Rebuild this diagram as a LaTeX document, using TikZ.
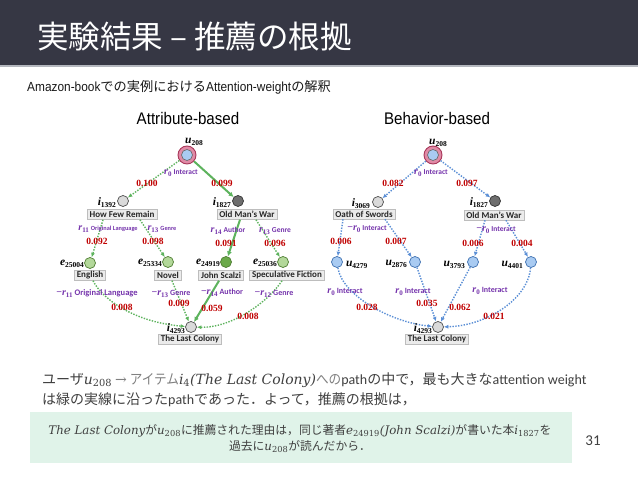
\documentclass[tikz,border=0pt]{standalone}
\usepackage{fontspec}
\setmainfont{Liberation Serif}
\newfontfamily\jpf{Noto Sans CJK JP}
\newfontfamily\jpn{Noto Sans CJK JP}[FakeStretch=0.9]
\newfontfamily\arn{Liberation Sans}[FakeStretch=0.9]
\newfontfamily\cbr{Carlito}
\newfontfamily\mth{DejaVu Serif}
\usetikzlibrary{arrows.meta,calc}
\definecolor{hdr}{HTML}{363744}
\definecolor{hline}{HTML}{B4B7BE}
\definecolor{relc}{HTML}{7534AC}
\definecolor{wtc}{HTML}{C00000}
\definecolor{grn}{HTML}{5DB35D}
\definecolor{blu}{HTML}{5B8FD6}
\definecolor{boxf}{HTML}{EBEBEB}
\definecolor{boxd}{HTML}{BDBDBD}
\definecolor{mint}{HTML}{E0F3E9}
\definecolor{txt}{HTML}{404040}
\definecolor{txtl}{HTML}{808080}
\definecolor{pinkf}{HTML}{E08AA6}
\definecolor{pinkd}{HTML}{A8385A}
\definecolor{ublue}{HTML}{A9CBF2}
\definecolor{ubd}{HTML}{3D6FB0}
\definecolor{ilg}{HTML}{DADADA}
\definecolor{idk}{HTML}{6E6E6E}
\definecolor{egf}{HTML}{B3D89A}
\definecolor{egd}{HTML}{4E7D32}
\definecolor{egk}{HTML}{6BA94A}
\newcommand\nlab[2]{{\fontsize{11.5}{12}\selectfont\bfseries\itshape #1}{\fontsize{7.5}{8}\selectfont\bfseries\raisebox{-2pt}{#2}}}
\newcommand\rlab[4][7.5]{{\fontsize{10}{10}\selectfont\bfseries #2\itshape r}{\fontsize{7}{7}\selectfont\bfseries\raisebox{-2pt}{#3}}\hspace{2pt}{\cbr\bfseries\fontsize{#1}{8}\selectfont #4}}
\newcommand\wlab[1]{{\fontsize{9.5}{10}\selectfont\bfseries #1}}
\newcommand\mv[2]{{\mth{\itshape #1}\textsubscript{#2}}}
\newcommand\mi[1]{{\mth\itshape #1}}
\tikzset{
 lb/.style={inner sep=0pt},
 lbl/.style={inner sep=0pt, anchor=east},
 rl/.style={inner sep=0pt, text=relc},
 wl/.style={inner sep=0pt, text=wtc},
 bx/.style={draw=boxd, fill=boxf, line width=0.5pt, inner xsep=2.5pt, inner ysep=0pt, minimum height=10pt, font=\cbr\bfseries\fontsize{9}{10}\selectfont, text=black!85},
 cn/.style={circle, inner sep=0pt, minimum size=11pt, line width=0.7pt},
 ig/.style={cn, fill=ilg, draw=black!70},
 idkn/.style={cn, fill=idk, draw=black!80},
 en/.style={cn, fill=egf, draw=egd},
 ek/.style={cn, fill=egk, draw=egd},
 un/.style={cn, fill=ublue, draw=ubd},
 uout/.style={circle, fill=pinkf, draw=pinkd, line width=0.9pt, minimum size=18pt, inner sep=0pt},
 uin/.style={circle, fill=ublue, draw=black!60, line width=0.6pt, minimum size=11pt, inner sep=0pt},
 gd/.style={draw=grn, line width=1.4pt, dash pattern=on 1.4pt off 1.4pt, -{Latex[length=4.5pt,width=4pt]}},
 gs/.style={draw=grn, line width=2pt, -{Latex[length=5pt,width=5pt]}},
 bd/.style={draw=blu, line width=1.4pt, dash pattern=on 1.4pt off 1.4pt, -{Latex[length=4.5pt,width=4pt]}},
}
\begin{document}
\begin{tikzpicture}[x=1pt,y=-1pt]
\useasboundingbox (0,0) rectangle (638,478);
\fill[white] (0,0) rectangle (638,478);
\fill[hdr] (0,0) rectangle (638,65);
\fill[hline] (0,65) rectangle (638,67.5);
\node[anchor=west, text=white, font=\jpf\fontsize{31.5}{32}\selectfont, inner sep=0] (title) at (37,37) {実験結果 – 推薦の根拠};
\node[anchor=west, inner sep=0, text=black!90, font=\fontsize{13.2}{14}\selectfont] (sub) at (27,87) {{\arn Amazon-book}{\jpf での実例における}{\arn Attention-weight}{\jpf の解釈}};
\node[inner sep=0, font=\arn\fontsize{16.8}{17}\selectfont] (hattr) at (188,118) {Attribute-based};
\node[inner sep=0, font=\arn\fontsize{16.8}{17}\selectfont] (hbeh) at (437,118) {Behavior-based};

% ---------- attribute-based graph ----------
\node[uout] (au) at (187,155) {};
\node[uin] (aui) at (au.center) {};
\node[ig] (ai1392) at (123,201) {};
\node[idkn] (ai1827) at (238,201) {};
\node[bx] (ahfr) at (122,214.5) {How Few Remain};
\node[bx] (aomw) at (247,214.5) {Old Man’s War};
\node[en] (ae25004) at (90,263) {};
\node[en] (ae25334) at (168,262) {};
\node[ek] (ae24919) at (226,262) {};
\node[en] (ae25036) at (283,262) {};
\node[bx] (aeng) at (90,275.5) {English};
\node[bx] (anov) at (168,275.5) {Novel};
\node[bx] (ajs) at (221,275.5) {John Scalzi};
\node[bx] (aspf) at (287,275.5) {Speculative Fiction};
\node[ig] (ai4293) at (191,327) {};
\node[bx] (alc) at (190,339.5) {The Last Colony};

\draw[gd] (au) -- (ai1392);
\draw[gs] (au) -- (ai1827);
\draw[gd] ($(ahfr.south)+(-19,0)$) -- (ae25004);
\draw[gd] ($(ahfr.south)+(18,0)$) -- (ae25334);
\draw[gs] ($(aomw.south)+(-7,0)$) -- (ae24919);
\draw[gd] ($(aomw.south)+(9,0)$) -- (ae25036);
\draw[gd] ($(aeng.south)+(3,0)$) .. controls (103,300) and (135,322) .. (ai4293);
\draw[gd] ($(anov.south)+(4,0)$) -- (ai4293);
\draw[gs] ($(ajs.south)+(-2,0)$) -- (ai4293);
\draw[gd] ($(aspf.south)+(-5,0)$) .. controls (268,302) and (232,328) .. (ai4293);

\node[lb] (aul) at (194,142) {\nlab{u}{208}};
\node[lbl] (ai1392l) at ($(ai1392.west)+(-1,1.5)$) {\nlab{i}{1392}};
\node[lbl] (ai1827l) at ($(ai1827.west)+(-1,1.5)$) {\nlab{i}{1827}};
\node[lbl] (ae25004l) at ($(ae25004.west)+(0,1)$) {\nlab{e}{25004}};
\node[lbl] (ae25334l) at ($(ae25334.west)+(0,1)$) {\nlab{e}{25334}};
\node[lbl] (ae24919l) at ($(ae24919.west)+(0,1)$) {\nlab{e}{24919}};
\node[lbl] (ae25036l) at ($(ae25036.west)+(0,1)$) {\nlab{e}{25036}};
\node[lbl] (ai4293l) at ($(ai4293.west)+(0,1.5)$) {\nlab{i}{4293}};

\node[rl] (ar0) at (181,173) {\rlab{}{0}{Interact}};
\node[wl] (w100) at (147,183) {\wlab{0.100}};
\node[wl] (w099) at (222,183) {\wlab{0.099}};
\node[rl] (ar11) at (108,229) {\rlab[6.3]{}{11}{Original Language}};
\node[rl] (ar13a) at (162,229) {\rlab[6.3]{}{13}{Genre}};
\node[wl] (w092) at (97,241) {\wlab{0.092}};
\node[wl] (w098) at (153,241) {\wlab{0.098}};
\node[rl] (ar14) at (228,231) {\rlab{}{14}{Author}};
\node[rl] (ar13b) at (275,231) {\rlab{}{13}{Genre}};
\node[wl] (w091) at (226,243) {\wlab{0.091}};
\node[wl] (w096) at (275,243) {\wlab{0.096}};
\node[rl] (anr11) at (97,294) {\rlab[8.5]{−}{11}{Original Language}};
\node[rl] (anr13) at (171,294) {\rlab[8]{−}{13}{Genre}};
\node[rl] (anr14) at (222,293) {\rlab[8]{−}{14}{Author}};
\node[rl] (anr12) at (274,294) {\rlab[8]{−}{12}{Genre}};
\node[wl] (w008a) at (122,307) {\wlab{0.008}};
\node[wl] (w009) at (179,303) {\wlab{0.009}};
\node[wl] (w059) at (212,308) {\wlab{0.059}};
\node[wl] (w008b) at (248,316) {\wlab{0.008}};

% ---------- behavior-based graph ----------
\node[uout] (bu) at (433,155) {};
\node[uin] (bui) at (bu.center) {};
\node[ig] (bi3069) at (378,202) {};
\node[idkn] (bi1827) at (495,201) {};
\node[bx] (boath) at (364,214) {Oath of Swords};
\node[bx] (bomw) at (494,215) {Old Man’s War};
\node[un] (bu4279) at (337,262) {};
\node[un] (bu2876) at (415,262) {};
\node[un] (bu3793) at (473,262) {};
\node[un] (bu4401) at (531,262) {};
\node[ig] (bi4293) at (438,327) {};
\node[bx] (blc) at (437,339.5) {The Last Colony};

\draw[bd] (bu) -- (bi3069);
\draw[bd] (bu) -- (bi1827);
\draw[bd] ($(boath.south)+(-21,0)$) -- (bu4279);
\draw[bd] ($(boath.south)+(21,0)$) -- (bu2876);
\draw[bd] ($(bomw.south)+(-9,0)$) -- (bu3793);
\draw[bd] ($(bomw.south)+(12,0)$) -- (bu4401);
\draw[bd] (bu4279) .. controls (342,295) and (390,322) .. (bi4293);
\draw[bd] (bu2876) -- (bi4293);
\draw[bd] (bu3793) -- (bi4293);
\draw[bd] (bu4401) .. controls (528,300) and (485,326) .. (bi4293);

\node[lb] (bul) at (438,143) {\nlab{u}{208}};
\node[lbl] (bi3069l) at ($(bi3069.west)+(-2,1.5)$) {\nlab{i}{3069}};
\node[lbl] (bi1827l) at ($(bi1827.west)+(-1,1.5)$) {\nlab{i}{1827}};
\node[lb, anchor=west] (bu4279l) at ($(bu4279.east)+(3,2.5)$) {\nlab{u}{4279}};
\node[lbl] (bu2876l) at ($(bu2876.west)+(-2,2)$) {\nlab{u}{2876}};
\node[lbl] (bu3793l) at ($(bu3793.west)+(-2,3)$) {\nlab{u}{3793}};
\node[lbl] (bu4401l) at ($(bu4401.west)+(-2,3)$) {\nlab{u}{4401}};
\node[lbl] (bi4293l) at ($(bi4293.west)+(0,1.5)$) {\nlab{i}{4293}};

\node[rl] (br0) at (431,173) {\rlab{}{0}{Interact}};
\node[wl] (w082) at (393,183) {\wlab{0.082}};
\node[wl] (w097) at (467,183) {\wlab{0.097}};
\node[rl] (bnr0a) at (367,229) {\rlab{−}{0}{Interact}};
\node[wl] (w006a) at (341,241) {\wlab{0.006}};
\node[wl] (w007) at (396,241) {\wlab{0.007}};
\node[rl] (bnr0b) at (496,230) {\rlab{−}{0}{Interact}};
\node[wl] (w006b) at (473,243) {\wlab{0.006}};
\node[wl] (w004) at (522,243) {\wlab{0.004}};
\node[rl] (br0a) at (345,292) {\rlab[8]{}{0}{Interact}};
\node[rl] (br0b) at (413,292) {\rlab[8]{}{0}{Interact}};
\node[rl] (br0c) at (490,291) {\rlab[8]{}{0}{Interact}};
\node[wl] (w028) at (367,307) {\wlab{0.028}};
\node[wl] (w035) at (427,303) {\wlab{0.035}};
\node[wl] (w062) at (460,307) {\wlab{0.062}};
\node[wl] (w021) at (494,316) {\wlab{0.021}};

% ---------- bottom text ----------
\node[anchor=west, inner sep=0, text=txt, font=\fontsize{14}{15}\selectfont] (l1) at (42,380) {{\jpf ユーザ}\mv{u}{208}\hspace{3pt}{\color{txtl}{\mth →}\hspace{3pt}{\jpn アイテム}}\mv{i}{4}\mi{(The Last Colony)}{\color{txtl}\jpn への}{\cbr path}{\jpf の中で，最も大きな}{\cbr attention weight}};
\node[anchor=west, inner sep=0, text=txt, font=\fontsize{14}{15}\selectfont] (l2) at (42,400) {{\jpf は緑の実線に沿った}{\cbr path}{\jpf であった．よって，推薦の根拠は，}};
\node[fill=mint, minimum width=542pt, minimum height=51pt, inner sep=0] (gbox) at (301,437.5) {};
\node[inner sep=0, text=txt, font=\fontsize{11.8}{14}\selectfont] (bt1) at (300,431) {\mi{The Last Colony}{\jpf が}\mv{u}{208}{\jpf に推薦された理由は，同じ著者}\mv{e}{24919}\mi{(John Scalzi)}{\jpf が書いた本}\mv{i}{1827}{\jpf を}};
\node[inner sep=0, text=txt, font=\fontsize{11.8}{14}\selectfont] (bt2) at (300,447) {{\jpf 過去に}\mv{u}{208}{\jpf が読んだから．}};
\node[inner sep=0, text=txt, font=\cbr\fontsize{15}{16}\selectfont] (pg) at (593,441) {31};
\end{tikzpicture}
\end{document}
